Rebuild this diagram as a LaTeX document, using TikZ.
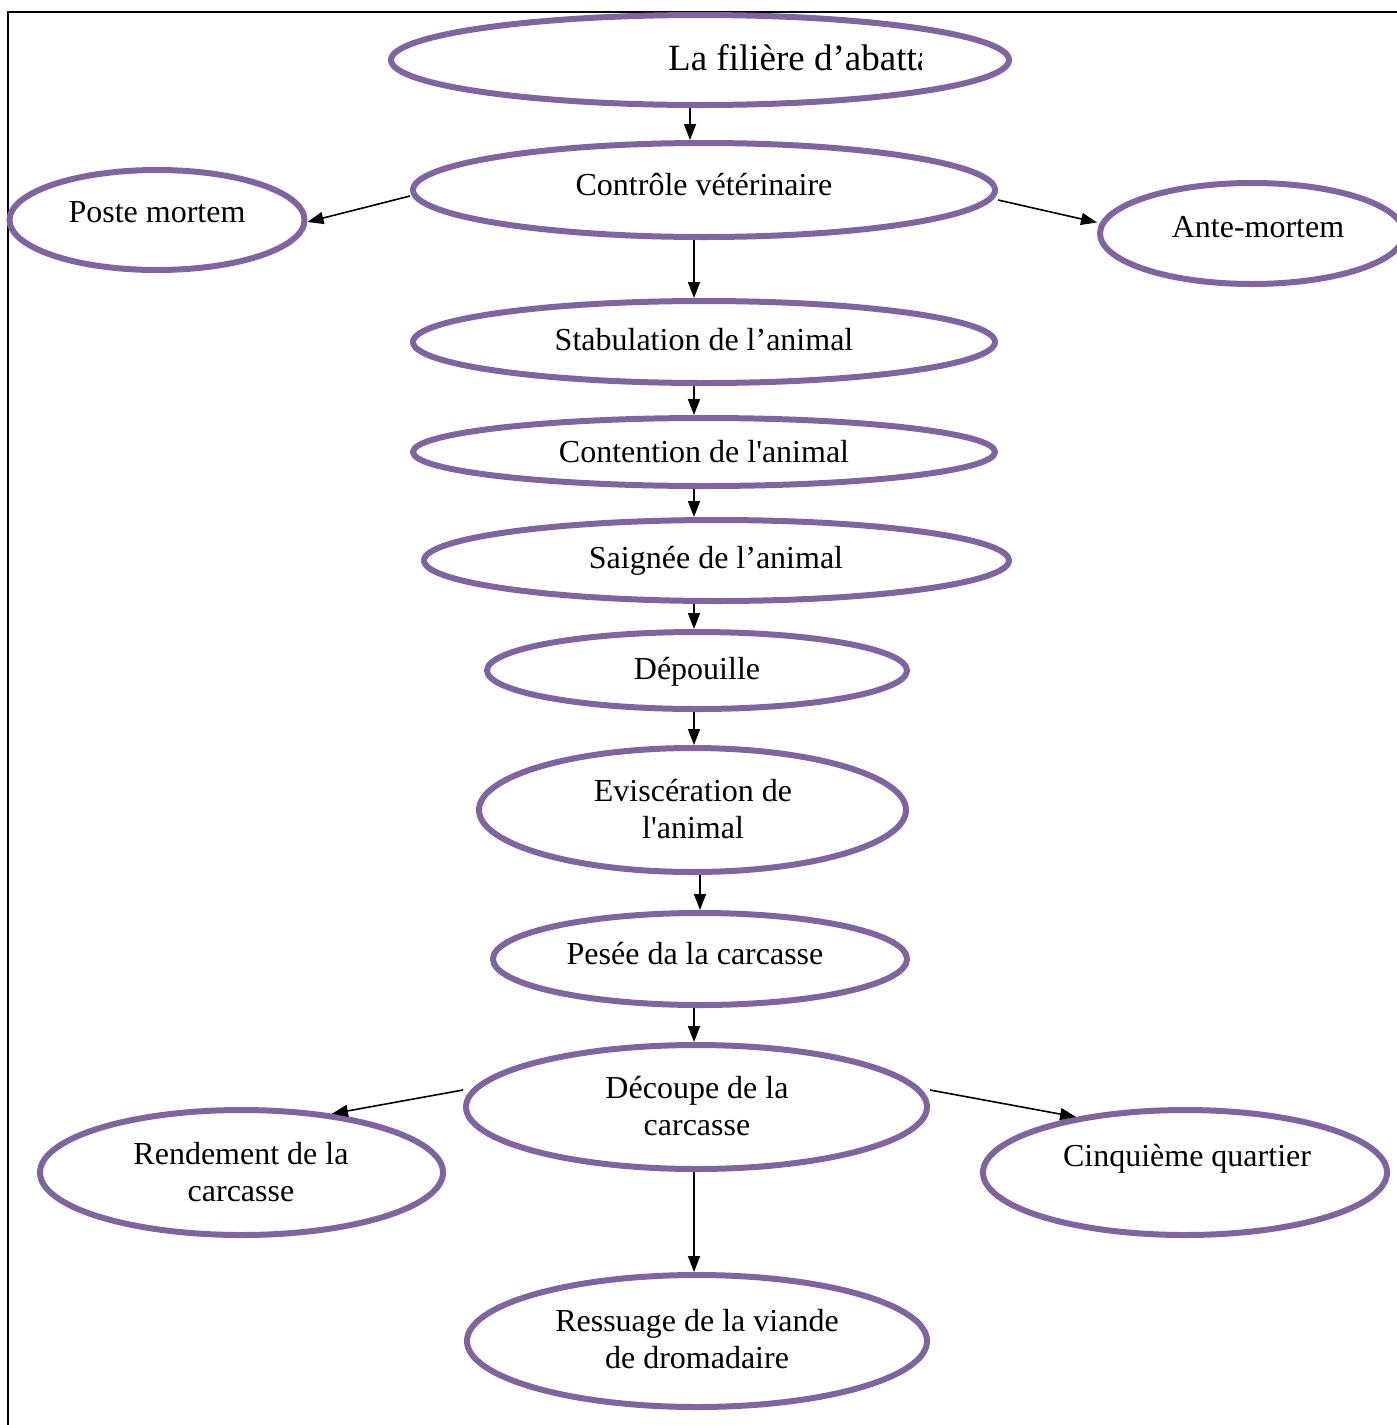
\documentclass[tikz,border=0pt]{standalone}
\usepackage{fontspec}
\newfontfamily\tnr{Liberation Serif}
\usetikzlibrary{shapes.geometric,arrows.meta}
\definecolor{ovalpurple}{HTML}{8064A2}
\begin{document}
\begin{tikzpicture}[x=1pt,y=-1pt,
  oval/.style={draw=ovalpurple,line width=6pt,ellipse,inner sep=0pt},
  lbl/.style={font=\tnr\fontsize{32}{36.5}\selectfont,anchor=base,align=center,inner sep=0pt},
  arr/.style={line width=1.6pt,-{Triangle[length=16pt,width=12pt]}},
  frame/.style={line width=1.8pt}]
\useasboundingbox (0,0) rectangle (1397,1425);
% frame
\coordinate (ftl) at (8,12);
\coordinate (ftr) at (1397,12);
\coordinate (fbl) at (8,1425);
\draw[frame] (ftr) -- (ftl) -- (fbl);
% ovals
\node[oval,minimum width=618pt,minimum height=90pt] (title) at (700,60) {};
\node[oval,minimum width=582pt,minimum height=94pt] (ctrl) at (704,190) {};
\node[oval,minimum width=295pt,minimum height=100pt] (poste) at (157,220) {};
\node[oval,minimum width=304pt,minimum height=101pt] (ante) at (1252,233.5) {};
\node[oval,minimum width=582pt,minimum height=82pt] (stab) at (704,342) {};
\node[oval,minimum width=582pt,minimum height=68pt] (cont) at (704,452) {};
\node[oval,minimum width=585pt,minimum height=81pt] (saign) at (716.5,560.5) {};
\node[oval,minimum width=420pt,minimum height=77pt] (dep) at (697,670.5) {};
\node[oval,minimum width=427pt,minimum height=124pt] (evis) at (692.5,810) {};
\node[oval,minimum width=414pt,minimum height=92pt] (pesee) at (700,959) {};
\node[oval,minimum width=461pt,minimum height=124pt] (dec) at (696.5,1107) {};
\node[oval,minimum width=403pt,minimum height=125pt] (rend) at (241.5,1172.5) {};
\node[oval,minimum width=404pt,minimum height=125pt] (cinq) at (1185,1172.5) {};
\node[oval,minimum width=460pt,minimum height=132pt] (ress) at (697,1341) {};
% texts
\begin{scope}
\clip (388,0) rectangle (921,120);
\node[lbl,anchor=base west,font=\tnr\fontsize{37}{42}\selectfont] (ttitle) at (668,70) {La filière d’abattage};
\end{scope}
\node[lbl] (tctrl) at (704,195) {Contrôle vétérinaire};
\node[lbl] (tposte) at (157,222) {Poste mortem};
\node[lbl] (tante) at (1258,237) {Ante-mortem};
\node[lbl] (tstab) at (704,350) {Stabulation de l’animal};
\node[lbl] (tcont) at (704,462) {Contention de l'animal};
\node[lbl] (tsaign) at (716,568) {Saignée de l’animal};
\node[lbl] (tdep) at (697,679) {Dépouille};
\node[lbl] (tevis) at (693,838) {Eviscération de\\l'animal};
\node[lbl] (tpesee) at (695,964) {Pesée da la carcasse};
\node[lbl] (tdec) at (697,1135) {Découpe de la\\carcasse};
\node[lbl] (trend) at (241,1201) {Rendement de la\\carcasse};
\node[lbl] (tcinq) at (1187,1166) {Cinquième quartier};
\node[lbl] (tress) at (697,1368) {Ressuage de la viande\\de dromadaire};
% connectors
\draw[arr] ([xshift=-10pt]title.south) -- ([xshift=-14pt]ctrl.north);
\draw[arr] ([yshift=-6pt]ctrl.west) -- ([yshift=-2pt]poste.east);
\draw[arr] ([yshift=-10pt]ctrl.east) -- ([yshift=11pt]ante.west);
\draw[arr] ([xshift=-10pt]ctrl.south) -- ([xshift=-10pt]stab.north);
\draw[arr] ([xshift=-10pt]stab.south) -- ([xshift=-10pt]cont.north);
\draw[arr] ([xshift=-10pt]cont.south) -- ([xshift=-22.5pt]saign.north);
\draw[arr] ([xshift=-22.5pt]saign.south) -- ([xshift=-3pt]dep.north);
\draw[arr] ([xshift=-3pt]dep.south) -- ([xshift=1.5pt]evis.north);
\draw[arr] ([xshift=7.5pt]evis.south) -- (pesee.north);
\draw[arr] ([xshift=-6pt]pesee.south) -- ([xshift=-2.5pt]dec.north);
\draw[arr] ([yshift=17pt]dec.west) -- (rend.33);
\draw[arr] ([yshift=17pt]dec.east) -- (cinq.153);
\draw[arr] ([xshift=-2.5pt]dec.south) -- ([xshift=-3pt]ress.north);
\end{tikzpicture}
\end{document}
